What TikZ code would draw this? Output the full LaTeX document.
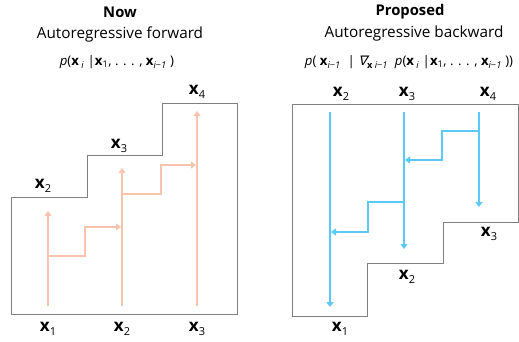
\documentclass[tikz,border=0pt]{standalone}
\usepackage{fontspec}
\setmainfont{Open Sans}
\newfontfamily\nablafont{DejaVu Sans}[FakeSlant=0.25]
\usetikzlibrary{arrows.meta}
\definecolor{fwdcol}{HTML}{F7C5AD}
\definecolor{bwdcol}{HTML}{5CC8F5}
\definecolor{framecol}{HTML}{808080}
% bold vector with a subscript
\newcommand{\vx}[1]{\textbf{x}\textsubscript{#1}}
\newcommand{\lab}[1]{\fontsize{17}{19}\selectfont\textbf{x}\raisebox{-0.45ex}{\fontsize{11}{12}\selectfont #1}}
\tikzset{
  frameline/.style={draw=framecol, line width=0.9pt},
  fwdarrow/.style={draw=fwdcol, line width=2.4pt, -{Triangle[length=5pt,width=7pt]}},
  bwdarrow/.style={draw=bwdcol, line width=2.4pt, -{Triangle[length=5pt,width=7pt]}},
  title/.style={font=\fontsize{14.8}{17}\selectfont\bfseries},
  subtitle/.style={font=\fontsize{15.3}{17}\selectfont},
  formula/.style={font=\fontsize{13.2}{15}\selectfont},
  xlab/.style={inner sep=0pt},
}
\begin{document}
\begin{tikzpicture}[x=1pt, y=-1pt]
\useasboundingbox (0,0) rectangle (519,341);

% ---------- left panel: forward ----------
\node[title] (nowT) at (120,12) {Now};
\node[subtitle] (nowS) at (120,34) {Autoregressive forward};
\node[formula] (nowF) at (117,62)
  {\itshape p\upshape(\vx{\itshape\ i} |\vx{1}, . . . , \vx{\itshape i\upshape−\itshape 1} )};

\draw[frameline] (11,314) -- (11,197) -- (87,197) -- (87,155) -- (162,155)
  -- (162,103) -- (237,103) -- (237,314) -- cycle;

\coordinate (f1s) at (48,306);  \coordinate (f1e) at (48,211);
\coordinate (f2s) at (122,306); \coordinate (f2e) at (122,168);
\coordinate (f3s) at (197,306); \coordinate (f3e) at (197,111);
\coordinate (f12a) at (48,256);  \coordinate (f12b) at (85,227);  \coordinate (f12c) at (121,227);
\coordinate (f23a) at (122,194); \coordinate (f23b) at (161,165); \coordinate (f23c) at (196,165);

\draw[fwdarrow] (f1s) -- (f1e);
\draw[fwdarrow] (f2s) -- (f2e);
\draw[fwdarrow] (f3s) -- (f3e);
\draw[fwdarrow] (f12a) -| (f12b) -- (f12c);
\draw[fwdarrow] (f23a) -| (f23b) -- (f23c);

\node[xlab] (lb1) at (48,329) {\lab{1}};
\node[xlab] (lb2) at (122,329) {\lab{2}};
\node[xlab] (lb3) at (197,329) {\lab{3}};
\node[xlab] (lt2) at (43,186) {\lab{2}};
\node[xlab] (lt3) at (119,146) {\lab{3}};
\node[xlab] (lt4) at (197,92) {\lab{4}};

% ---------- right panel: backward ----------
\node[title] (propT) at (410,12) {Proposed};
\node[subtitle] (propS) at (414,34) {Autoregressive backward};
\node[formula] (propF) at (409,62)
  {\itshape p\upshape( \vx{\itshape i\upshape−\itshape 1}\ \ |
   {\nablafont ∇}\textsubscript{\textbf{x}\itshape\ i\upshape−\itshape 1}\ \
   \itshape p\upshape(\vx{\itshape\ i} |\vx{1}, . . . , \vx{\itshape i\upshape−\itshape 1} ))};

\draw[frameline] (292,104) -- (518,104) -- (518,222) -- (443,222) -- (443,263)
  -- (367,263) -- (367,316) -- (292,316) -- cycle;

\coordinate (b2s) at (330,112); \coordinate (b2e) at (330,307);
\coordinate (b3s) at (404,112); \coordinate (b3e) at (404,249);
\coordinate (b4s) at (479,112); \coordinate (b4e) at (479,207);
\coordinate (b43a) at (479,131); \coordinate (b43b) at (442,160); \coordinate (b43c) at (405,160);
\coordinate (b32a) at (404,202); \coordinate (b32b) at (368,232); \coordinate (b32c) at (331,232);

\draw[bwdarrow] (b2s) -- (b2e);
\draw[bwdarrow] (b3s) -- (b3e);
\draw[bwdarrow] (b4s) -- (b4e);
\draw[bwdarrow] (b43a) -| (b43b) -- (b43c);
\draw[bwdarrow] (b32a) -| (b32b) -- (b32c);

\node[xlab] (rt2) at (341,94) {\lab{2}};
\node[xlab] (rt3) at (407,94) {\lab{3}};
\node[xlab] (rt4) at (488,94) {\lab{4}};
\node[xlab] (rb3) at (489,234) {\lab{3}};
\node[xlab] (rb2) at (407,277) {\lab{2}};
\node[xlab] (rb1) at (340,329) {\lab{1}};
\end{tikzpicture}
\end{document}
